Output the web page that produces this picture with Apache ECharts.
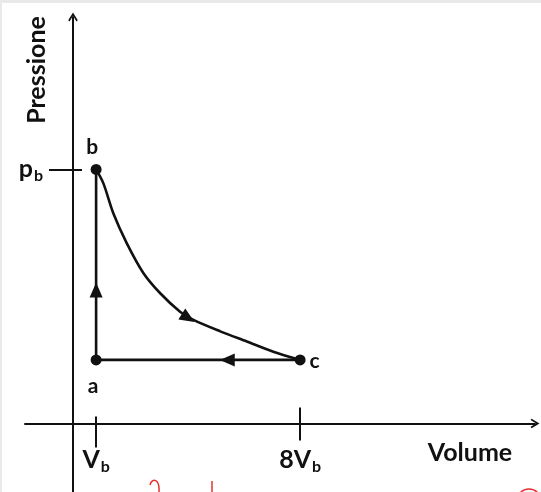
<!DOCTYPE html>
<html><head><meta charset="utf-8">
<script src="https://cdn.jsdelivr.net/npm/echarts@6/dist/echarts.min.js"></script>
<style>
html,body{margin:0;padding:0;background:#e9e9e9;width:541px;height:492px;overflow:hidden;}
#c{position:absolute;left:2px;top:3px;width:539px;height:489px;background:#fff;}
</style></head><body><div id="c"></div>
<script>
// ---- data (V in units of V_b, p in units of p_a) ----
const pointNames = ['a', 'b', 'c'];
const pointV = [1, 1, 8];
const pointP = [1, 4, 1];
// curve b -> c
const curveV = [1, 1.25, 1.59, 2.05, 2.62, 3.20, 3.88, 4.34, 5.26, 6.17, 7.08, 8];
const curveP = [4, 3.78, 3.31, 2.84, 2.37, 2.05, 1.76, 1.63, 1.45, 1.29, 1.13, 1];
// direction arrows on the cycle
const arrowV = [1, 4.16, 5.5];
const arrowP = [2.1, 1.66, 1];
const arrowAngle = [0, -122, 90];
// ticks
const xTickValues = [1, 8];
const xTickLabels = ['{m|V}{s|b}', '{m|8V}{s|b}'];
const yTickValues = [4];
const yTickLabels = ['{m|p}{s|b}'];
const xName = 'Volume';
const yName = 'Pressione';

const FONT = 'Lato';
const INK = '#111';
const X_MIN = -1.44, X_MAX = 16.06, Y_MIN = -1.08, Y_MAX = 6.4;
const GRID = {left: 23, right: 6, top: 14, bottom: 0};
const CHART_H = 489;
const chevron = 'path://M5,0 L10,8.2 L8.6,9.4 L5,3.4 L1.4,9.4 L0,8.2 Z';

const rich = {
  m: {fontFamily: FONT, fontWeight: 'bold', fontSize: 25, color: INK, lineHeight: 28, verticalAlign: 'middle'},
  s: {fontFamily: FONT, fontWeight: 'bold', fontSize: 16, color: INK, lineHeight: 15, padding: [13, 0, 0, 1], verticalAlign: 'middle'}
};

// pixel distance between the grid bottom and p = 0 (where the horizontal axis crosses)
const plotH = CHART_H - GRID.top - GRID.bottom;
const zeroFromBottom = (0 - Y_MIN) / (Y_MAX - Y_MIN) * plotH;

function tickAxisX(values, len, inside, extra) {
  return Object.assign({
    type: 'value', min: X_MIN, max: X_MAX, position: 'bottom',
    splitLine: {show: false},
    axisLine: {show: false, onZero: true, onZeroAxisIndex: 0},
    axisTick: {show: true, customValues: values, length: len, inside: inside, lineStyle: {color: INK, width: 2}},
    axisLabel: {show: false}
  }, extra || {});
}

const xAxes = [
  tickAxisX([1], 24, false, {
    axisLine: {show: true, onZero: true, onZeroAxisIndex: 0, lineStyle: {color: INK, width: 2},
      symbol: ['none', chevron], symbolSize: [14, 9]}
  }),
  tickAxisX([8], 17, false),
  tickAxisX([1], 7, true),
  tickAxisX([8], 16, true),
  // label-only axis placed at p = 0
  {
    type: 'value', min: X_MIN, max: X_MAX, position: 'bottom', offset: -zeroFromBottom,
    splitLine: {show: false},
    axisLine: {show: false, onZero: false},
    axisTick: {show: false},
    axisLabel: {show: true, customValues: xTickValues, margin: 23, rich: rich,
      formatter: v => xTickLabels[xTickValues.indexOf(v)]}
  }
];

const yAxes = [
  {
    type: 'value', min: Y_MIN, max: Y_MAX, position: 'left', offset: -48,
    splitLine: {show: false},
    axisLine: {show: true, onZero: false, lineStyle: {color: INK, width: 2},
      symbol: ['none', chevron], symbolSize: [14, 9]},
    axisTick: {show: true, customValues: yTickValues, length: 24, inside: false, lineStyle: {color: INK, width: 2}},
    axisLabel: {show: true, customValues: yTickValues, margin: 30, rich: rich,
      formatter: v => yTickLabels[yTickValues.indexOf(v)]}
  },
  {
    type: 'value', min: Y_MIN, max: Y_MAX, position: 'left', offset: -48,
    splitLine: {show: false},
    axisLine: {show: false, onZero: false},
    axisTick: {show: true, customValues: yTickValues, length: 9, inside: true, lineStyle: {color: INK, width: 2}},
    axisLabel: {show: false}
  }
];

const labelStyle = {
  a: {position: 'bottom', distance: 10, offset: [-3, 0]},
  b: {position: 'top', distance: 6, offset: [-4, 0]},
  c: {position: 'right', distance: 4, offset: [0, 1]}
};

const lineStyle = {color: INK, width: 2.6};
const idx = n => pointNames.indexOf(n);
const pt = n => [pointV[idx(n)], pointP[idx(n)]];

const RED = '#e8312f';
const option = {
  animation: false,
  backgroundColor: '#fff',
  grid: Object.assign({containLabel: false, outerBoundsMode: 'none'}, GRID),
  xAxis: xAxes,
  yAxis: yAxes,
  series: [
    {type: 'line', name: 'a-b', data: [pt('a'), pt('b')], symbol: 'none', lineStyle: lineStyle, z: 3},
    {type: 'line', name: 'b-c', data: curveV.map((v, i) => [v, curveP[i]]), smooth: 0.3, symbol: 'none', lineStyle: lineStyle, z: 3},
    {type: 'line', name: 'c-a', data: [pt('c'), pt('a')], symbol: 'none', lineStyle: lineStyle, z: 3},
    {type: 'scatter', name: 'arrows', symbol: 'triangle', symbolSize: [13, 15], z: 4,
      itemStyle: {color: INK, opacity: 1},
      data: arrowV.map((v, i) => ({value: [v, arrowP[i]], symbolRotate: arrowAngle[i]}))},
    {type: 'scatter', name: 'states', symbolSize: 11, z: 5,
      itemStyle: {color: INK, opacity: 1},
      data: pointNames.map((n, i) => ({
        name: n, value: [pointV[i], pointP[i]],
        label: Object.assign({show: true, formatter: '{b}', fontFamily: FONT, fontWeight: 'bold', fontSize: 21, color: INK}, labelStyle[n])
      }))}
  ],
  graphic: [
    {type: 'text', x: 468, y: 450, style: {text: xName, align: 'center', verticalAlign: 'middle',
      font: 'bold 25px ' + FONT, fill: INK}},
    {type: 'text', x: 35, y: 67, rotation: Math.PI / 2, style: {text: yName, align: 'center', verticalAlign: 'middle',
      font: 'bold 25px ' + FONT, fill: INK}},
    // red hand-drawn fragments cut off at the lower edge of the picture
    {type: 'arc', shape: {cx: 527, cy: 498, r: 12, startAngle: Math.PI, endAngle: 2 * Math.PI},
      style: {stroke: RED, lineWidth: 1.5, fill: null}},
    {type: 'line', shape: {x1: 210, y1: 478, x2: 210, y2: 489}, style: {stroke: RED, lineWidth: 1.5}},
    {type: 'bezierCurve', shape: {x1: 148, y1: 482, cpx1: 150, cpy1: 474, cpx2: 158, cpy2: 476, x2: 157, y2: 489},
      style: {stroke: RED, lineWidth: 1.5, fill: null}}
  ]
};

const chart = echarts.init(document.getElementById('c'), null, {renderer: 'canvas'});
chart.setOption(option);
</script></body></html>
